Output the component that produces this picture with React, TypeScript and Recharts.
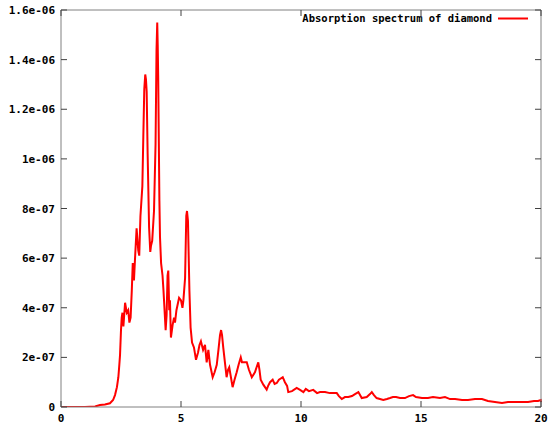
import React from "react";
import { LineChart, Line, XAxis, YAxis } from "recharts";

const energies: number[] = [
  0, 1.0, 1.42, 1.625, 1.83, 2.04, 2.17, 2.25, 2.33, 2.39, 2.43, 2.46, 2.5, 2.53, 2.56, 2.6, 2.67, 2.74, 2.8, 2.85,
  2.9, 2.95, 2.99, 3.04, 3.08, 3.15, 3.22, 3.26, 3.31, 3.39, 3.43, 3.47, 3.51, 3.54, 3.57, 3.61, 3.67, 3.72, 3.75, 3.8,
  3.875, 3.94, 3.98, 4.01, 4.03, 4.05, 4.1, 4.125, 4.17, 4.23, 4.27, 4.36, 4.4, 4.44, 4.47, 4.51, 4.54, 4.58, 4.65, 4.71,
  4.75, 4.81, 4.92, 5.0, 5.06, 5.1, 5.17, 5.22, 5.25, 5.29, 5.32, 5.35, 5.4, 5.46, 5.54, 5.625, 5.71, 5.77, 5.83, 5.92,
  6.0, 6.07, 6.14, 6.21, 6.32, 6.4, 6.49, 6.56, 6.625, 6.67, 6.71, 6.76, 6.83, 6.9, 6.96, 7.01, 7.08, 7.15, 7.23, 7.32,
  7.4, 7.49, 7.54, 7.6, 7.74, 7.83, 7.95, 8.08, 8.15, 8.22, 8.27, 8.32, 8.43, 8.5, 8.57, 8.63, 8.71, 8.82, 8.9, 8.99,
  9.08, 9.24, 9.33, 9.42, 9.47, 9.625, 9.82, 9.96, 10.1, 10.2, 10.33, 10.51, 10.67, 10.79, 11.0, 11.2, 11.49, 11.58, 11.7, 11.83,
  11.97, 12.125, 12.25, 12.39, 12.46, 12.53, 12.74, 12.875, 12.95, 13.04, 13.15, 13.29, 13.43, 13.58, 13.71, 13.83, 13.96, 14.125, 14.33, 14.5,
  14.67, 14.79, 15.04, 15.29, 15.5, 15.79, 16.0, 16.21, 16.42, 16.71, 16.96, 17.25, 17.54, 17.79, 18.08, 18.375, 18.625, 18.79, 19.125, 19.46,
  19.71, 19.875, 19.99, 20,
];

const absorption: number[] = [
  0, 0, 2e-9, 8e-9, 1e-8, 1.5e-8, 2.8e-8, 4.8e-8, 8e-8, 1.2e-7, 1.7e-7, 2.1e-7, 3.1e-7, 3.6e-7, 3.8e-7, 3.25e-7, 4.2e-7, 3.8e-7, 3.9e-7, 3.4e-7,
  3.6e-7, 4.7e-7, 5.8e-7, 5.1e-7, 5.9e-7, 7.2e-7, 6.3e-7, 6.1e-7, 7.7e-7, 8.9e-7, 1.09e-6, 1.28e-6, 1.34e-6, 1.32e-6, 1.27e-6, 1.02e-6, 7.25e-7, 6.25e-7, 6.5e-7, 6.7e-7,
  7.9e-7, 1.06e-6, 1.44e-6, 1.55e-6, 1.46e-6, 1.33e-6, 8.3e-7, 6.85e-7, 5.8e-7, 5.3e-7, 4.7e-7, 3.1e-7, 3.7e-7, 5.3e-7, 5.5e-7, 3.9e-7, 4.3e-7, 2.8e-7, 3.3e-7, 3.6e-7,
  3.4e-7, 3.9e-7, 4.4e-7, 4.3e-7, 4.0e-7, 4.3e-7, 5.2e-7, 7.7e-7, 7.9e-7, 7.5e-7, 6.1e-7, 4.7e-7, 3.2e-7, 2.6e-7, 2.4e-7, 1.9e-7, 2.2e-7, 2.5e-7, 2.65e-7, 2.3e-7,
  2.5e-7, 1.8e-7, 2.3e-7, 1.7e-7, 1.2e-7, 1.4e-7, 1.7e-7, 2.3e-7, 2.9e-7, 3.1e-7, 2.9e-7, 2.4e-7, 1.8e-7, 1.2e-7, 1.5e-7, 1.6e-7, 1.2e-7, 8e-8, 1.1e-7, 1.4e-7,
  1.7e-7, 2.0e-7, 1.8e-7, 1.8e-7, 1.8e-7, 1.5e-7, 1.2e-7, 1.4e-7, 1.6e-7, 1.8e-7, 1.5e-7, 1.1e-7, 9e-8, 8e-8, 7e-8, 8.5e-8, 1.0e-7, 1.1e-7, 9.3e-8, 9.7e-8,
  1.1e-7, 1.2e-7, 1.0e-7, 8.5e-8, 6e-8, 6.4e-8, 7.7e-8, 6.9e-8, 6e-8, 7.3e-8, 6.4e-8, 6.9e-8, 5.6e-8, 6e-8, 6e-8, 5.6e-8, 5.6e-8, 4.4e-8, 3.2e-8, 4e-8,
  4e-8, 4.4e-8, 5.2e-8, 6e-8, 4.8e-8, 3.6e-8, 4e-8, 5.2e-8, 6e-8, 4.8e-8, 3.6e-8, 3.2e-8, 2.8e-8, 3.2e-8, 3.6e-8, 4e-8, 4e-8, 3.6e-8, 3.6e-8, 4.4e-8,
  4.8e-8, 4e-8, 3.6e-8, 3.6e-8, 4e-8, 3.6e-8, 4e-8, 3.2e-8, 3.2e-8, 2.8e-8, 2.8e-8, 3.2e-8, 3.2e-8, 2.4e-8, 2e-8, 1.6e-8, 2e-8, 2e-8, 2e-8, 2e-8,
  2.4e-8, 2.4e-8, 2.8e-8, 2e-8,
];

const xTicks: number[] = [0, 5, 10, 15, 20];
const xTickLabels: string[] = ["0", "5", "10", "15", "20"];
const yTicks: number[] = [0, 2e-7, 4e-7, 6e-7, 8e-7, 1e-6, 1.2e-6, 1.4e-6, 1.6e-6];
const yTickLabels: string[] = ["0", "2e-07", "4e-07", "6e-07", "8e-07", "1e-06", "1.2e-06", "1.4e-06", "1.6e-06"];
const seriesName = "Absorption spectrum of diamond";

const data = energies.map((x, i) => ({ x, y: absorption[i] }));

const FONT = "'DejaVu Sans Mono', monospace";
const BORDER = "#808080";
const TICKC = "#404040";

const BottomTick = (props: any) => {
  const { x, y, index } = props;
  return (
    <g>
      <line x1={x} x2={x} y1={y} y2={y - 6} stroke={TICKC} strokeWidth={1} />
      <text x={x} y={y + 15} textAnchor="middle" fontFamily={FONT} fontWeight="bold" fontSize={11} fill="#000">
        {xTickLabels[index]}
      </text>
    </g>
  );
};

const TopTick = (props: any) => {
  const { x, y } = props;
  return <line x1={x} x2={x} y1={y} y2={y + 6} stroke={TICKC} strokeWidth={1} />;
};

const LeftTick = (props: any) => {
  const { x, y, index } = props;
  return (
    <g>
      <line x1={x} x2={x + 6} y1={y} y2={y} stroke={TICKC} strokeWidth={1} />
      <text x={x - 6} y={y + 4} textAnchor="end" fontFamily={FONT} fontWeight="bold" fontSize={11} fill="#000">
        {yTickLabels[index]}
      </text>
    </g>
  );
};

const RightTick = (props: any) => {
  const { x, y } = props;
  return <line x1={x} x2={x - 6} y1={y} y2={y} stroke={TICKC} strokeWidth={1} />;
};

export default function App() {
  return (
    <div style={{ position: "absolute", left: 0, top: 0, width: 551, height: 424, background: "#fff" }}>
      <LineChart width={551} height={424} data={data} margin={{ top: 9, right: 9, bottom: 0, left: 0 }}>
        <XAxis
          xAxisId={0}
          dataKey="x"
          type="number"
          domain={[0, 20]}
          ticks={xTicks}
          height={17}
          tickSize={0}
          tickMargin={0}
          tickLine={false}
          tick={<BottomTick />}
          axisLine={{ stroke: BORDER }}
          interval={0}
        />
        <XAxis
          xAxisId="top"
          orientation="top"
          dataKey="x"
          type="number"
          domain={[0, 20]}
          ticks={xTicks}
          height={1}
          tickSize={0}
          tickMargin={0}
          tickLine={false}
          tick={<TopTick />}
          axisLine={{ stroke: BORDER }}
          interval={0}
        />
        <YAxis
          yAxisId={0}
          type="number"
          domain={[0, 1.6e-6]}
          ticks={yTicks}
          width={61}
          tickSize={0}
          tickMargin={0}
          tickLine={false}
          tick={<LeftTick />}
          axisLine={{ stroke: BORDER }}
          interval={0}
          allowDataOverflow
        />
        <YAxis
          yAxisId="r"
          orientation="right"
          type="number"
          domain={[0, 1.6e-6]}
          ticks={yTicks}
          width={1}
          tickSize={0}
          tickMargin={0}
          tickLine={false}
          tick={<RightTick />}
          axisLine={{ stroke: BORDER }}
          interval={0}
          allowDataOverflow
        />
        <Line
          xAxisId={0}
          yAxisId={0}
          type="linear"
          dataKey="y"
          name={seriesName}
          stroke="#ff0000"
          strokeWidth={2}
          dot={false}
          activeDot={false}
          isAnimationActive={false}
        />
      </LineChart>
      <svg width={551} height={424} style={{ position: "absolute", left: 0, top: 0, pointerEvents: "none" }}>
        <text x={492} y={22} textAnchor="end" fontFamily={FONT} fontWeight="bold" fontSize={10.5} fill="#000">
          {seriesName}
        </text>
        <line x1={498} x2={528} y1={18.5} y2={18.5} stroke="#ff0000" strokeWidth={2} />
      </svg>
    </div>
  );
}
